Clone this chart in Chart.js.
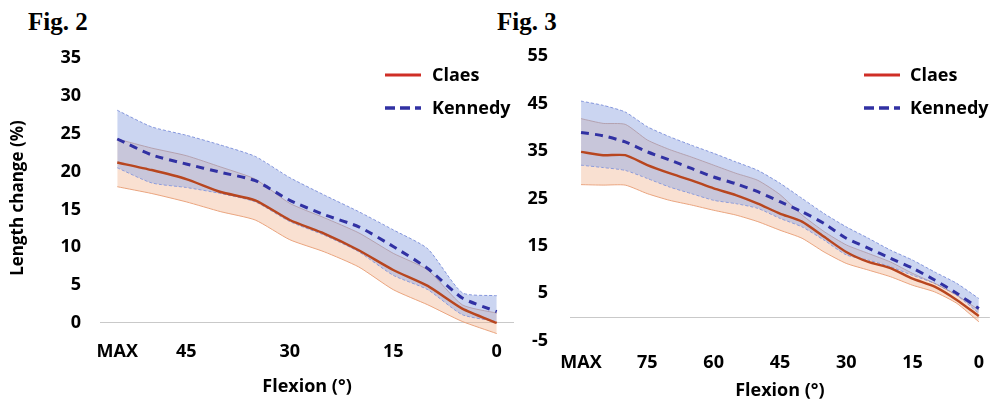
<!DOCTYPE html>
<html>
<head>
<meta charset="utf-8">
<script src="https://cdn.jsdelivr.net/npm/chart.js@4.4.0/dist/chart.umd.min.js"></script>
<style>
  html, body { margin: 0; padding: 0; background: #fff; }
  #page { position: relative; width: 995px; height: 404px; overflow: hidden; background: #fff; }
  canvas { position: absolute; top: 0; }
  .fig { position: absolute; font-family: "Liberation Serif", "Times New Roman", serif; font-weight: bold; font-size: 25px; line-height: 1; color: #000; }
  .leg { position: absolute; font-family: "Open Sans", Lato, sans-serif; font-weight: bold; font-size: 18px; color: #000; line-height: 20px; height: 20px; }
  .leg svg { position: absolute; left: 0; top: 9px; }
  .leg span { position: absolute; white-space: nowrap; }
</style>
</head>
<body>
<div id="page">
  <div class="fig" style="left:28px; top:9px;">Fig. 2</div>
  <div class="fig" style="left:497px; top:9px;">Fig. 3</div>
  <canvas id="c2" width="520" height="404" style="left:0px;"></canvas>
  <canvas id="c3" width="495" height="404" style="left:500px;"></canvas>

  <div class="leg" style="left:385px; top:64px;">
    <svg width="40" height="6"><line x1="0" y1="2" x2="36" y2="2" stroke="#cf2e26" stroke-width="3.2"/></svg>
    <span style="left:47px; top:0;">Claes</span>
  </div>
  <div class="leg" style="left:385px; top:97px;">
    <svg width="40" height="6"><line x1="0" y1="2" x2="36" y2="2" stroke="#3131a3" stroke-width="3.4" stroke-dasharray="10,5"/></svg>
    <span style="left:47px; top:0;">Kennedy</span>
  </div>
  <div class="leg" style="left:864px; top:64px;">
    <svg width="40" height="6"><line x1="0" y1="2" x2="36" y2="2" stroke="#cf2e26" stroke-width="3.2"/></svg>
    <span style="left:46px; top:0;">Claes</span>
  </div>
  <div class="leg" style="left:864px; top:97px;">
    <svg width="40" height="6"><line x1="0" y1="2" x2="36" y2="2" stroke="#3131a3" stroke-width="3.4" stroke-dasharray="10,5"/></svg>
    <span style="left:46px; top:0;">Kennedy</span>
  </div>
</div>
<script>
// ---------- Fig. 2 data ----------
const fig2Categories = ['MAX','50','45','40','35','30','25','20','15','10','5','0'];
const fig2ShownLabels = ['MAX','45','30','15','0'];
const fig2YTicks = [0, 5, 10, 15, 20, 25, 30, 35];
const fig2ClaesUpper   = [24.3, 23.1, 22.1, 20.6, 19.0, 15.8, 13.9, 11.9, 9.2, 7.0, 2.4, 1.3];
const fig2ClaesMean    = [21.2, 20.2, 19.0, 17.3, 16.2, 13.6, 11.8, 9.6, 7.0, 4.9, 1.9, 0.0];
const fig2ClaesLower   = [18.0, 17.1, 16.0, 14.7, 13.6, 11.0, 9.4, 7.4, 4.4, 2.4, 0.2, -1.4];
const fig2KennedyUpper = [28.1, 25.9, 24.8, 23.5, 22.0, 19.2, 16.9, 14.7, 12.3, 9.8, 4.0, 3.6];
const fig2KennedyMean  = [24.3, 22.2, 21.0, 19.9, 18.8, 16.2, 14.3, 12.7, 10.1, 7.2, 3.3, 1.5];
const fig2KennedyLower = [20.5, 18.5, 17.9, 17.1, 16.0, 13.4, 11.6, 9.4, 6.3, 4.4, 1.1, 0.2];

// ---------- Fig. 3 data ----------
const fig3Categories = ['MAX','85','80','75','70','65','60','55','50','45','40','35','30','25','20','15','10','5','0'];
const fig3ShownLabels = ['MAX','75','60','45','30','15','0'];
const fig3YTicks = [-5, 0, 5, 15, 25, 35, 45, 55];
const fig3ClaesUpper   = [41.8, 40.8, 40.6, 37.3, 35.3, 33.7, 32.0, 30.3, 28.8, 25.8, 21.5, 18.0, 15.2, 13.4, 11.6, 9.2, 7.1, 4.6, 1.5];
const fig3ClaesMean    = [34.8, 34.1, 34.1, 32.0, 30.3, 28.8, 27.1, 25.7, 23.9, 21.8, 20.1, 16.9, 13.7, 11.6, 10.3, 8.1, 6.4, 3.6, 0.2];
const fig3ClaesLower   = [27.9, 27.8, 27.8, 26.0, 24.6, 23.6, 22.5, 21.5, 20.1, 18.3, 16.6, 13.7, 11.3, 9.9, 8.5, 6.7, 5.3, 2.9, -1.0];
const fig3KennedyUpper = [45.5, 44.6, 43.2, 40.1, 38.0, 36.2, 34.5, 32.7, 30.9, 28.2, 25.0, 21.8, 19.0, 16.6, 14.1, 12.0, 9.5, 7.1, 3.9];
const fig3KennedyMean  = [38.9, 38.2, 36.9, 34.8, 33.1, 31.3, 29.5, 28.1, 26.4, 24.3, 22.2, 19.7, 16.6, 14.5, 12.4, 10.3, 7.8, 5.0, 1.8];
const fig3KennedyLower = [32.0, 31.5, 30.9, 29.2, 27.4, 26.0, 24.6, 23.9, 22.9, 20.8, 19.0, 16.2, 13.1, 12.0, 10.6, 8.8, 7.1, 4.6, 0.8];

const FONT = '"Open Sans", Lato, sans-serif';
const TENSION = 0.2;

function buildDatasets(cu, cm, cl, ku, km, kl) {
  return [
    { label: 'Kennedy', data: km, borderColor: '#3131a3', borderWidth: 3, borderDash: [8, 6],
      pointRadius: 0, fill: false, tension: TENSION },
    { label: 'Claes', data: cm, borderColor: '#b8461f', borderWidth: 2.4,
      pointRadius: 0, fill: false, tension: TENSION },
    { label: 'Kennedy upper', data: ku, borderColor: 'rgba(115,135,215,0.85)', borderWidth: 1, borderDash: [3, 2],
      backgroundColor: 'rgba(155,175,228,0.52)', pointRadius: 0, fill: 3, tension: TENSION },
    { label: 'Kennedy lower', data: kl, borderColor: 'rgba(115,135,215,0.85)', borderWidth: 1, borderDash: [3, 2],
      pointRadius: 0, fill: false, tension: TENSION },
    { label: 'Claes upper', data: cu, borderColor: 'rgba(195,125,90,0.8)', borderWidth: 1,
      backgroundColor: 'rgba(240,178,140,0.4)', pointRadius: 0, fill: 5, tension: TENSION },
    { label: 'Claes lower', data: cl, borderColor: 'rgba(228,145,100,0.85)', borderWidth: 1,
      pointRadius: 0, fill: false, tension: TENSION }
  ];
}

function makeChart(id, cfg) {
  const shown = cfg.shown;
  return new Chart(document.getElementById(id), {
    type: 'line',
    data: { labels: cfg.categories, datasets: buildDatasets(cfg.cu, cfg.cm, cfg.cl, cfg.ku, cfg.km, cfg.kl) },
    options: {
      responsive: false,
      animation: false,
      devicePixelRatio: 1,
      layout: { padding: cfg.padding },
      plugins: { legend: { display: false }, tooltip: { enabled: false } },
      scales: {
        x: {
          type: 'category',
          offset: true,
          grid: { display: false, drawTicks: false },
          border: { display: false },
          ticks: {
            autoSkip: false, maxRotation: 0, minRotation: 0, padding: cfg.xTickPad, color: '#000',
            font: { family: FONT, size: 18, weight: 'bold' },
            callback: function (v) { const l = this.getLabelForValue(v); return shown.includes(l) ? l : ''; }
          },
          title: { display: true, text: 'Flexion (°)', color: '#000',
            font: { family: FONT, size: 18, weight: 'bold' }, padding: { top: 0, bottom: cfg.xTitlePad } },
          afterFit: (s) => { s.height = cfg.xHeight; }
        },
        y: {
          min: cfg.yMin, max: cfg.yMax,
          grid: { drawTicks: false, lineWidth: 1,
            color: (c) => (c.tick && c.tick.value === 0) ? '#c9c9c9' : 'rgba(0,0,0,0)' },
          border: { display: false },
          afterBuildTicks: (s) => { s.ticks = cfg.yTicks.map(v => ({ value: v })); },
          ticks: { padding: cfg.yTickPad, color: '#000',
            font: { family: FONT, size: 18, weight: 'bold' },
            callback: (v) => (cfg.hideZeroLabel && v === 0) ? '' : String(v) },
          title: { display: !!cfg.yTitle, text: cfg.yTitle || '', color: '#000',
            font: { family: FONT, size: 17, weight: 'bold' }, padding: { top: 8, bottom: 0 } },
          afterFit: (s) => { s.width = cfg.yWidth; }
        }
      }
    }
  });
}

makeChart('c2', {
  categories: fig2Categories, shown: fig2ShownLabels, yTicks: fig2YTicks,
  cu: fig2ClaesUpper, cm: fig2ClaesMean, cl: fig2ClaesLower,
  ku: fig2KennedyUpper, km: fig2KennedyMean, kl: fig2KennedyLower,
  yMin: -2, yMax: 35, hideZeroLabel: false, yTitle: 'Length change (%)',
  padding: { left: 0, right: 6, top: 58, bottom: 0 },
  yWidth: 100, xHeight: 65.9, yTickPad: 19, xTickPad: 3, xTitlePad: 6
});

makeChart('c3', {
  categories: fig3Categories, shown: fig3ShownLabels, yTicks: fig3YTicks,
  cu: fig3ClaesUpper, cm: fig3ClaesMean, cl: fig3ClaesLower,
  ku: fig3KennedyUpper, km: fig3KennedyMean, kl: fig3KennedyLower,
  yMin: -5, yMax: 55, hideZeroLabel: true, yTitle: '',
  padding: { left: 0, right: 1, top: 56, bottom: 0 },
  yWidth: 70, xHeight: 63.25, yTickPad: 22, xTickPad: 11, xTitlePad: 2
});
</script>
</body>
</html>
